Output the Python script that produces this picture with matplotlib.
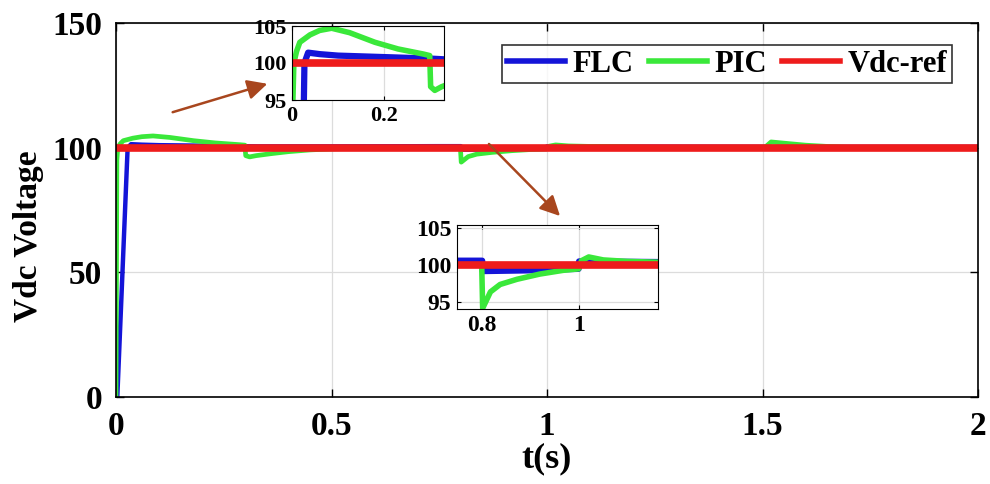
import matplotlib
matplotlib.use("Agg")
import matplotlib.pyplot as plt

plt.rcParams['font.family'] = ['Liberation Serif', 'DejaVu Serif']
plt.rcParams['font.weight'] = 'bold'

# ---- data ----
t_flc = [0, 0.003, 0.027, 0.035, 0.06, 0.1, 0.2, 0.3, 0.33, 0.5, 0.75, 0.8, 0.801, 0.9, 0.999, 1.0, 1.2, 1.5, 2.0]
v_flc = [0, 0, 100, 101.4, 101.2, 101.0, 100.8, 100.6, 100.5, 100.5, 100.6, 100.6, 99.2, 99.3, 99.5, 100.5, 100.4, 100.3, 100.3]

t_pic = [0, 0.002, 0.004, 0.01, 0.017, 0.039, 0.06, 0.086, 0.125, 0.18, 0.23, 0.286, 0.299, 0.301,
         0.31, 0.325, 0.36, 0.4, 0.45, 0.5, 0.6, 0.7, 0.799, 0.801, 0.817, 0.837, 0.872, 0.919,
         0.967, 0.999, 1.005, 1.02, 1.05, 1.1, 1.16, 1.25, 1.3, 1.505, 1.52, 1.55, 1.6, 1.65, 1.7, 2.0]
v_pic = [0, 95, 100, 101.6, 102.8, 103.8, 104.4, 104.7, 104.1, 102.8, 101.9, 101.2, 101.0, 96.8,
         96.3, 96.8, 97.6, 98.4, 99.1, 99.5, 99.9, 100.0, 100.0, 94.2, 96.4, 97.4, 98.1, 98.8,
         99.3, 99.5, 100.6, 101.1, 100.7, 100.5, 100.4, 100.1, 100.0, 100.0, 102.3, 101.8, 101.0, 100.5, 100.1, 100.0]

t_ref = [0, 2]
v_ref = [100, 100]

series_names = ['FLC', 'PIC', 'Vdc-ref']
colors = ['#1414d8', '#3ae83a', '#ee1c1c']

main_xticks = [0, 0.5, 1, 1.5, 2]
main_xticklabels = ['0', '0.5', '1', '1.5', '2']
main_yticks = [0, 50, 100, 150]
in1_xticks = [0, 0.2]
in2_xticks = [0.8, 1]
in_yticks = [95, 100, 105]

W, H = 990, 484
fig = plt.figure(figsize=(W / 100, H / 100), dpi=100)

def fx(px):
    return px / W

def fy(py):
    return 1 - py / H

ax = fig.add_axes([fx(116), fy(397), fx(978) - fx(116), fy(23) - fy(397)])

def draw(a, lws):
    a.plot(t_flc, v_flc, color=colors[0], lw=lws[0], label=series_names[0])
    a.plot(t_pic, v_pic, color=colors[1], lw=lws[1], label=series_names[1])
    a.plot(t_ref, v_ref, color=colors[2], lw=lws[2], label=series_names[2])

draw(ax, (3.2, 3.4, 5.5))
ax.set_xlim(0, 2)
ax.set_ylim(0, 150)
ax.set_xticks(main_xticks)
ax.set_xticklabels(main_xticklabels)
ax.set_yticks(main_yticks)
ax.grid(True, color='#dcdcdc', lw=0.9)
ax.tick_params(direction='in', top=True, right=True, labelsize=24, length=6, width=1, pad=10)
for s in ax.spines.values():
    s.set_linewidth(1.2)
ax.set_xlabel('t(s)', fontsize=26, fontweight='bold', labelpad=0)
ax.set_ylabel('Vdc Voltage', fontsize=24, fontweight='bold')
ax.yaxis.set_label_coords(-0.083, 0.43)

leg = ax.legend(loc='upper right', bbox_to_anchor=((952 - 116) / 862, (397 - 45) / 374),
                ncol=3, fontsize=22, frameon=True, fancybox=False, borderpad=0.15,
                handlelength=1.9, handletextpad=0.25, columnspacing=0.5, borderaxespad=0)
leg.get_frame().set_edgecolor('black')
leg.get_frame().set_linewidth(1.2)
for line in leg.get_lines():
    line.set_linewidth(4)

# inset 1
a1 = fig.add_axes([fx(292), fy(100), fx(444) - fx(292), fy(26) - fy(100)])
draw(a1, (4.5, 4.0, 5.5))
a1.set_xlim(0, 0.33)
a1.set_ylim(95, 105)
a1.set_xticks(in1_xticks)
a1.set_xticklabels(['0', '0.2'])
a1.set_yticks(in_yticks)
a1.grid(True, color='#dcdcdc', lw=0.9)
a1.tick_params(direction='in', top=True, right=True, labelsize=16, length=3, pad=4)

# inset 2
a2 = fig.add_axes([fx(457), fy(309), fx(658) - fx(457), fy(225) - fy(309)])
draw(a2, (4.5, 4.0, 5.5))
a2.set_xlim(0.748, 1.163)
a2.set_ylim(94.1, 105.4)
a2.set_xticks(in2_xticks)
a2.set_xticklabels(['0.8', '1'])
a2.set_yticks(in_yticks)
a2.grid(True, color='#dcdcdc', lw=0.9)
a2.tick_params(direction='in', top=True, right=True, labelsize=17, length=3, pad=4)

arrow_color = '#a8461e'
fig.add_artist(matplotlib.patches.FancyArrowPatch(
    (fx(170), fy(113)), (fx(270), fy(83)), transform=fig.transFigure,
    arrowstyle='-|>,head_length=12,head_width=6', color=arrow_color, lw=1.8, mutation_scale=1))
fig.add_artist(matplotlib.patches.FancyArrowPatch(
    (fx(487), fy(142)), (fx(562), fy(218)), transform=fig.transFigure,
    arrowstyle='-|>,head_length=12,head_width=6', color=arrow_color, lw=1.8, mutation_scale=1))

fig.savefig('out.png', dpi=100)
